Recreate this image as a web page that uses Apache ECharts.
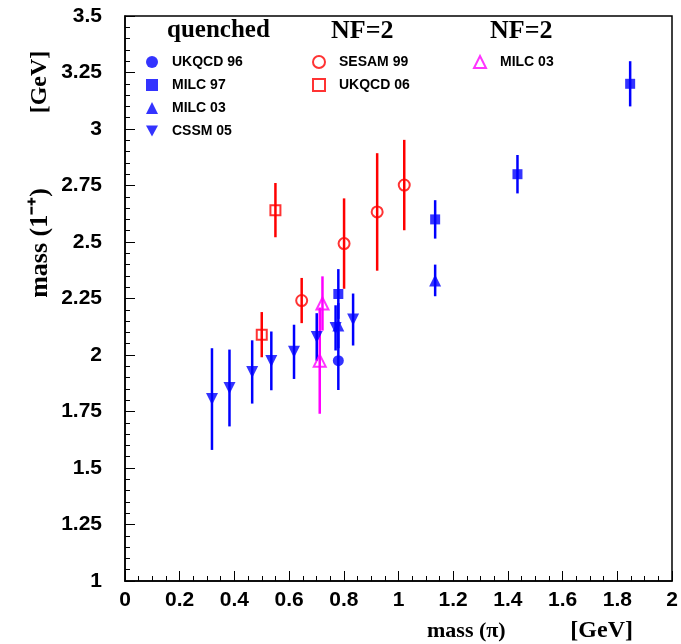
<!DOCTYPE html>
<html>
<head>
<meta charset="utf-8">
<script src="https://cdn.jsdelivr.net/npm/echarts@6/dist/echarts.min.js"></script>
<style>
html,body{margin:0;padding:0;background:#fff;}
#c{width:681px;height:644px;}
</style>
</head>
<body>
<div id="c"></div>
<script>
// ---- data (x = mass(pi) GeV, y = mass(1-+) GeV, err = symmetric error) ----
const ukqcd96_x = [0.78];
const ukqcd96_y = [1.975];
const ukqcd96_e = [0.13];

const milc97_x = [0.78, 1.134, 1.435, 1.847];
const milc97_y = [2.27, 2.60, 2.80, 3.20];
const milc97_e = [0.11, 0.085, 0.085, 0.10];

const milc03q_x = [0.78, 1.134];
const milc03q_y = [2.13, 2.33];
const milc03q_e = [0.10, 0.07];

const cssm05_x = [0.318, 0.382, 0.465, 0.535, 0.618, 0.701, 0.77, 0.834];
const cssm05_y = [1.805, 1.854, 1.925, 1.974, 2.014, 2.08, 2.12, 2.157];
const cssm05_e = [0.225, 0.17, 0.14, 0.13, 0.12, 0.105, 0.10, 0.115];

const sesam99_x = [0.646, 0.801, 0.922, 1.021];
const sesam99_y = [2.241, 2.493, 2.633, 2.752];
const sesam99_e = [0.10, 0.20, 0.26, 0.20];

const ukqcd06_x = [0.500, 0.550];
const ukqcd06_y = [2.09, 2.641];
const ukqcd06_e = [0.10, 0.12];

const milc03nf2_x = [0.712, 0.722];
const milc03nf2_y = [1.975, 2.228];
const milc03nf2_e = [0.235, 0.12];

const xTicks = [0, 0.2, 0.4, 0.6, 0.8, 1, 1.2, 1.4, 1.6, 1.8, 2];
const yTicks = [1, 1.25, 1.5, 1.75, 2, 2.25, 2.5, 2.75, 3, 3.25, 3.5];

// ---- build ----
const BLUE = '#0000ff', RED = '#ff0000', MAG = '#ff00ff';
const DOWN = 'path://M0,0L20,0L10,18Z';

function zip(xs, ys, es) { return xs.map((x, i) => [x, ys[i], es[i]]); }

const groups = [
  {name: 'UKQCD 96', x: ukqcd96_x, y: ukqcd96_y, e: ukqcd96_e, color: BLUE, symbol: 'circle', size: 11, hollow: false},
  {name: 'MILC 97', x: milc97_x, y: milc97_y, e: milc97_e, color: BLUE, symbol: 'rect', size: 10, hollow: false},
  {name: 'MILC 03', x: milc03q_x, y: milc03q_y, e: milc03q_e, color: BLUE, symbol: 'triangle', size: 12, hollow: false},
  {name: 'CSSM 05', x: cssm05_x, y: cssm05_y, e: cssm05_e, color: BLUE, symbol: DOWN, size: 12, hollow: false},
  {name: 'SESAM 99', x: sesam99_x, y: sesam99_y, e: sesam99_e, color: RED, symbol: 'circle', size: 11, hollow: true},
  {name: 'UKQCD 06', x: ukqcd06_x, y: ukqcd06_y, e: ukqcd06_e, color: RED, symbol: 'rect', size: 10, hollow: true},
  {name: 'MILC 03 (NF=2)', x: milc03nf2_x, y: milc03nf2_y, e: milc03nf2_e, color: MAG, symbol: 'triangle', size: 12, hollow: true}
];

const series = [];
groups.forEach(g => {
  const data = zip(g.x, g.y, g.e);
  series.push({
    name: 'err ' + g.name,
    type: 'custom',
    z: 2,
    silent: true,
    encode: {x: 0, y: 1},
    data: data,
    renderItem: function (params, api) {
      const x = api.value(0), y = api.value(1), e = api.value(2);
      const p1 = api.coord([x, y - e]);
      const p2 = api.coord([x, y + e]);
      return {type: 'line', shape: {x1: p1[0], y1: p1[1], x2: p2[0], y2: p2[1]},
              style: {stroke: g.color, lineWidth: 2.5}};
    }
  });
  series.push({
    name: g.name,
    type: 'scatter',
    z: 3,
    symbol: g.symbol,
    symbolSize: g.size,
    data: data,
    itemStyle: g.hollow
      ? {color: 'rgba(0,0,0,0)', borderColor: g.color, borderWidth: 2}
      : {color: g.color},
    emphasis: {disabled: true}
  });
});

const legendText = {fontFamily: 'Liberation Sans, Arial, sans-serif', fontWeight: 'bold', fontSize: 14, color: '#000', lineHeight: 12, padding: [0, 0, 0, 9]};
function mkLegend(names, left, top) {
  return {
    data: names, orient: 'vertical', left: left, top: top, padding: 0,
    itemWidth: 12, itemHeight: 12, itemGap: 9, selectedMode: false,
    textStyle: legendText,
    formatter: n => n.replace(' (NF=2)', '')
  };
}

const labelFont = {fontFamily: 'Liberation Sans, Arial, sans-serif', fontWeight: 'bold', fontSize: 21, color: '#000'};
const fmt = v => String(+Number(v).toFixed(2));
const serif = '"Liberation Serif", "Times New Roman", serif';

const option = {
  backgroundColor: '#fff',
  animation: false,
  grid: {left: 125, right: 9, top: 16, bottom: 63, show: true, borderColor: '#000', borderWidth: 1.5, backgroundColor: 'transparent'},
  xAxis: {
    type: 'value', min: xTicks[0], max: xTicks[xTicks.length - 1], interval: 0.2,
    axisLine: {show: true, lineStyle: {color: '#000', width: 1.5}},
    axisTick: {show: true, inside: true, length: 10, lineStyle: {color: '#000', width: 1}},
    minorTick: {show: true, splitNumber: 4, length: 5, lineStyle: {color: '#000', width: 1}},
    splitLine: {show: false},
    axisLabel: Object.assign({margin: 9, formatter: fmt}, labelFont)
  },
  yAxis: {
    type: 'value', min: yTicks[0], max: yTicks[yTicks.length - 1], interval: 0.25,
    axisLine: {show: true, lineStyle: {color: '#000', width: 1.5}},
    axisTick: {show: true, inside: true, length: 10, lineStyle: {color: '#000', width: 1}},
    minorTick: {show: true, splitNumber: 5, length: 5, lineStyle: {color: '#000', width: 1}},
    splitLine: {show: false},
    axisLabel: Object.assign({margin: 23, formatter: fmt}, labelFont)
  },
  legend: [
    mkLegend(['UKQCD 96', 'MILC 97', 'MILC 03', 'CSSM 05'], 146, 55),
    mkLegend(['SESAM 99', 'UKQCD 06'], 312, 55),
    mkLegend(['MILC 03 (NF=2)'], 473, 55)
  ],
  graphic: [
    {type: 'text', left: 167, top: 18, style: {text: 'quenched', font: 'bold 25px ' + serif, fill: '#000'}},
    {type: 'text', left: 331, top: 18, style: {text: 'NF=2', font: 'bold 26px ' + serif, fill: '#000'}},
    {type: 'text', left: 490, top: 18, style: {text: 'NF=2', font: 'bold 26px ' + serif, fill: '#000'}},
    {type: 'text', x: 427, y: 631, style: {text: 'mass (π)', font: 'bold 22px ' + serif, fill: '#000', verticalAlign: 'middle', align: 'left'}},
    {type: 'text', x: 633, y: 631, style: {text: '[GeV]', font: 'bold 24px ' + serif, fill: '#000', verticalAlign: 'middle', align: 'right'}},
    {type: 'text', x: 40, y: 82, rotation: Math.PI / 2, style: {text: '[GeV]', font: 'bold 24px ' + serif, fill: '#000', verticalAlign: 'middle', align: 'center'}},
    {type: 'text', x: 40, y: 243, rotation: Math.PI / 2, style: {text: 'mass (1⁻⁺)', font: 'bold 26px ' + serif, fill: '#000', verticalAlign: 'middle', align: 'center'}}
  ],
  series: series
};

const chart = echarts.init(document.getElementById('c'), null, {renderer: 'canvas'});
chart.setOption(option);
</script>
</body>
</html>
